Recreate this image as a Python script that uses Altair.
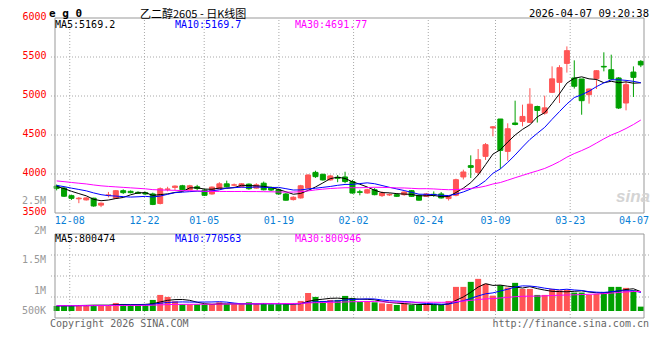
import altair as alt
import pandas as pd

# ---------------- data ----------------
opens = [3845, 3820, 3722, 3682, 3668, 3690, 3601, 3725, 3690, 3786,
         3778, 3765, 3760, 3744, 3622, 3803, 3828, 3849, 3798, 3836,
         3794, 3744, 3811, 3874, 3857, 3836, 3870, 3819, 3882, 3828,
         3798, 3744, 3672, 3693, 3819, 4021, 3996, 3924, 3958, 3962,
         3903, 3772, 3756, 3798, 3723, 3731, 3735, 3735, 3786, 3727,
         3714, 3740, 3744, 3685, 3727, 3962, 4107, 4021, 4226, 4590,
         4705, 4290, 4654, 4675, 4662, 4865, 4780, 5047, 5175, 5418,
         5231, 5218, 5017, 5222, 5380, 5337, 5231, 4910, 5307, 5444]
closes = [3815, 3715, 3688, 3690, 3693, 3590, 3626, 3732, 3786, 3761,
          3761, 3752, 3744, 3610, 3811, 3808, 3845, 3798, 3849, 3815,
          3727, 3832, 3874, 3836, 3861, 3874, 3811, 3861, 3798, 3794,
          3744, 3664, 3702, 3849, 3987, 3966, 3924, 3975, 3945, 3903,
          3756, 3765, 3798, 3735, 3756, 3738, 3714, 3769, 3714, 3664,
          3744, 3735, 3693, 3714, 3927, 4026, 4085, 4184, 4376, 4605,
          4303, 4580, 4635, 4738, 4895, 4815, 4848, 5220, 5363, 5581,
          5125, 4940, 5090, 5324, 5372, 5218, 4846, 5145, 5239, 5398]
highs = [3865, 3835, 3735, 3705, 3702, 3695, 3635, 3770, 3795, 3803,
         3790, 3778, 3773, 3761, 3828, 3836, 3853, 3861, 3861, 3861,
         3811, 3840, 3895, 3915, 3878, 3882, 3878, 3882, 3903, 3840,
         3811, 3756, 3714, 3861, 3996, 4042, 4004, 3987, 3987, 4029,
         3924, 3798, 3811, 3819, 3777, 3752, 3752, 3777, 3794, 3735,
         3756, 3777, 3769, 3727, 3940, 4055, 4239, 4320, 4397, 4615,
         4705, 4650, 4940, 4889, 5100, 4876, 5004, 5380, 5395, 5636,
         5457, 5218, 5095, 5330, 5560, 5530, 5243, 5188, 5380, 5460]
lows = [3790, 3705, 3668, 3626, 3660, 3580, 3575, 3700, 3680, 3744,
        3752, 3744, 3735, 3601, 3610, 3778, 3790, 3790, 3790, 3790,
        3718, 3735, 3803, 3828, 3840, 3828, 3798, 3811, 3790, 3782,
        3735, 3660, 3660, 3685, 3811, 3950, 3916, 3916, 3895, 3882,
        3748, 3727, 3748, 3727, 3706, 3718, 3706, 3722, 3706, 3660,
        3706, 3706, 3685, 3660, 3714, 3930, 3949, 3990, 4180, 4483,
        4066, 4170, 4624, 4611, 4654, 4660, 4760, 5038, 4910, 5300,
        5095, 4760, 4902, 5090, 5316, 5209, 4833, 4816, 4987, 5370]
volumes = [208000, 250000, 208000, 250000, 250000, 250000, 250000, 208000, 334000, 292000,
           250000, 250000, 250000, 459000, 667000, 584000, 403000, 278000, 278000, 278000,
           278000, 278000, 361000, 278000, 278000, 278000, 361000, 278000, 334000, 278000,
           278000, 278000, 278000, 417000, 751000, 584000, 417000, 459000, 459000, 626000,
           542000, 375000, 417000, 361000, 320000, 292000, 250000, 306000, 250000, 250000,
           292000, 250000, 250000, 417000, 1001000, 1001000, 1209000, 1334000, 1126000, 639000,
           1070000, 973000, 1168000, 917000, 917000, 667000, 667000, 917000, 862000, 876000,
           764000, 764000, 667000, 709000, 792000, 1001000, 1001000, 959000, 862000, 181000]
# sessions before the first visible candle (only feed the moving averages)
prior_closes = [3990, 4000, 3985, 3970, 3980, 3960, 3955, 3970, 3950, 3945,
                3930, 3940, 3925, 3910, 3920, 3900, 3905, 3890, 3880, 3895,
                3870, 3880, 3860, 3870, 3855, 3850, 3860, 3840, 3835]
prior_volumes = [230000, 210000, 250000, 200000, 240000, 220000, 190000, 230000, 260000, 210000,
                 200000, 240000, 220000, 230000, 250000, 210000, 190000, 220000, 240000, 200000,
                 230000, 210000, 220000, 250000, 200000, 210000, 230000, 190000, 220000]
tick_index = [2, 12, 20, 30, 40, 50, 59, 69, 79]
tick_labels = ["12-08", "12-22", "01-05", "01-19", "02-02", "02-24", "03-09", "03-23", "04-07"]
price_ticks = [3500, 4000, 4500, 5000, 5500, 6000]
price_grid = [4000, 4500, 5000, 5500]
vol_axis_labels = ["2.5M", "2M", "1.5M", "1M", "500K"]
legend_price = ["MA5:5169.2", "MA10:5169.7", "MA30:4691.77"]
legend_vol = ["MA5:800474", "MA10:770563", "MA30:800946"]
title_code = "e g 0"
title_name = "乙二醇2605 - 日K线图"
stamp = "2026-04-07 09:20:38"

# ---------------- styling / layout ----------------
RED, GREEN = "#ff5555", "#00a000"
MA_COLORS = ["#000000", "#0000ff", "#ff00ff"]
GRID, BORDER = "#a8a8a8", "#999999"
MONO = "DejaVu Sans Mono"
W, H = 599, 300
P_TOP, P_BOT, P_PX = 6000, 3500, 195          # price panel: 195 px for 2500
P_LO = P_TOP - H * (P_TOP - P_BOT) / P_PX
VPP, V_ZERO_PX = 41500, 293                    # volume units per pixel, zero row
V_PANEL_TOP_PX = 216


def vol_at(px):
    return (V_ZERO_PX - px) * VPP


V_LO, V_HI, V_TOP = vol_at(H), vol_at(0), vol_at(V_PANEL_TOP_PX)
X_LO, X_HI = -0.226, 79.43


def grid_at(i):
    return i * 1.0101 - 0.25


# ---------------- frames ----------------
n = len(closes)
k = len(prior_closes)
c_all = pd.Series(prior_closes + closes, dtype=float)
v_all = pd.Series(prior_volumes + volumes, dtype=float)
df = pd.DataFrame({"i": range(n), "open": opens, "high": highs, "low": lows,
                   "close": closes, "vol": volumes})
for w in (5, 10, 30):
    df[f"ma{w}"] = c_all.rolling(w).mean().iloc[k:].to_numpy()
    df[f"vma{w}"] = v_all.rolling(w).mean().iloc[k:].to_numpy()
df["dir"] = ["up" if c >= o else "down" for o, c in zip(opens, closes)]
df["zero"] = 0

xs = alt.Scale(domain=[X_LO, X_HI], nice=False, zero=False)
ps = alt.Scale(domain=[P_LO, P_TOP], nice=False, zero=False)
vs = alt.Scale(domain=[V_LO, V_HI], nice=False, zero=False)


def X(f):
    return alt.X(f, type="quantitative", scale=xs, axis=None)


def PY(f, axis=None):
    return alt.Y(f, type="quantitative", scale=ps, axis=axis)


def VY(f):
    return alt.Y(f, type="quantitative", scale=vs, axis=None)


cscale = alt.Scale(domain=["up", "down"], range=[RED, GREEN])
col = alt.Color("dir:N", scale=cscale, legend=None)
stk = alt.Stroke("dir:N", scale=cscale, legend=None)

gpos = [grid_at(i) for i in tick_index]
vgrid = pd.DataFrame({"gx": gpos[:-1], "p0": P_BOT, "p1": P_TOP, "v0": V_LO, "v1": V_TOP})
labs = pd.DataFrame({"gx": gpos, "lab": tick_labels})
frame = pd.DataFrame({"x0": [X_LO], "x1": [X_HI], "p0": [P_BOT], "p1": [P_TOP],
                      "v0": [V_LO], "v1": [V_TOP]})
vq = [vol_at(V_PANEL_TOP_PX + (H - V_PANEL_TOP_PX) * q / 4) for q in (1, 2, 3)]
ONE = pd.DataFrame({"o": [0]})

layers = []
price_axis = alt.Axis(values=price_ticks, grid=False, ticks=False, domain=False, format="d",
                      labelColor="#ff0000", labelFont=MONO, labelFontSize=10,
                      labelPadding=4, labelBaseline="middle", labelOffset=-2,
                      labelOverlap=False, title=None)
layers.append(alt.Chart(pd.DataFrame({"p": price_grid})).mark_rule(
    color=GRID, strokeDash=[1, 2], strokeWidth=1).encode(y=PY("p", price_axis)))
layers.append(alt.Chart(pd.DataFrame({"v": vq})).mark_rule(
    color=GRID, strokeDash=[1, 2], strokeWidth=1).encode(y=VY("v")))
layers.append(alt.Chart(vgrid).mark_rule(color=GRID, strokeDash=[1, 2]).encode(
    x=X("gx"), y=PY("p0"), y2="p1"))
layers.append(alt.Chart(vgrid).mark_rule(color=GRID, strokeDash=[1, 2]).encode(
    x=X("gx"), y=VY("v0"), y2="v1"))

# candles
layers.append(alt.Chart(df).mark_rule(strokeWidth=1).encode(
    x=X("i"), y=PY("low"), y2="high", color=col))
layers.append(alt.Chart(df).mark_bar(size=5, strokeWidth=1).encode(
    x=X("i"), y=PY("open"), y2="close", color=col, stroke=stk))
for w, c in zip((5, 10, 30), MA_COLORS):
    layers.append(alt.Chart(df).mark_line(strokeWidth=1, color=c).encode(
        x=X("i"), y=PY(f"ma{w}")))

# volume
layers.append(alt.Chart(df).mark_bar(size=6).encode(
    x=X("i"), y=VY("vol"), y2="zero", color=col))
for w, c in zip((5, 10, 30), MA_COLORS):
    layers.append(alt.Chart(df).mark_line(strokeWidth=1, color=c).encode(
        x=X("i"), y=VY(f"vma{w}")))

# frames
layers.append(alt.Chart(frame).mark_rect(fillOpacity=0, stroke=BORDER, strokeWidth=1).encode(
    x=X("x0"), x2="x1", y=PY("p0"), y2="p1"))
layers.append(alt.Chart(frame).mark_rect(fillOpacity=0, stroke=BORDER, strokeWidth=1).encode(
    x=X("x0"), x2="x1", y=VY("v0"), y2="v1"))

# date labels
layers.append(alt.Chart(labs.iloc[:-1]).mark_text(
    font=MONO, fontSize=10, color="#0a7fd6", baseline="middle", align="center").encode(
    x=X("gx"), y=alt.value(203), text="lab:N"))
layers.append(alt.Chart(labs.iloc[-1:]).mark_text(
    font=MONO, fontSize=10, color="#0a7fd6", baseline="middle", align="right").encode(
    x=alt.value(W), y=alt.value(203), text="lab:N"))


def note(txt, x, y, color="#000000", size=10, align="left", font=MONO, **kw):
    return alt.Chart(ONE).mark_text(text=txt, align=align, baseline="middle", font=font,
                                    fontSize=size, color=color, **kw).encode(
        x=alt.value(x), y=alt.value(y))


for t, yy in zip(vol_axis_labels, [182.7, 213, 242, 272.5, 292.7]):
    layers.append(note(t, -4, yy, color="#999999", align="right"))
for t, xx, c in zip(legend_price, [5, 125, 245], MA_COLORS):
    layers.append(note(t, xx, 7, color=c))
for t, xx, c in zip(legend_vol, [5, 125, 245], MA_COLORS):
    layers.append(note(t, xx, 221, color=c))
layers.append(note(title_code, -1, -4, size=11, fontWeight="bold"))
layers.append(note(title_name, 90, -3.5, size=11, font="Noto Sans CJK SC"))
layers.append(note(stamp, W, -4, size=10.5, align="right"))
layers.append(note("Copyright 2026 SINA.COM", 0, 305.5, color="#666666"))
layers.append(note("http://finance.sina.com.cn", W, 305.5, color="#666666", align="right"))
layers.append(note("sina", 583, 179, color="#d4d4d4", size=17, font="Liberation Sans",
                   fontStyle="italic", fontWeight="bold", align="center"))

chart = alt.layer(*layers).resolve_scale(y="independent").properties(
    width=W, height=H,
    autosize=alt.AutoSizeParams(type="none"),
    padding={"left": 42, "top": 10, "right": 3, "bottom": 16},
).configure_view(stroke=None)

chart.save("out.html", embed_options={"renderer": "svg", "actions": False})
